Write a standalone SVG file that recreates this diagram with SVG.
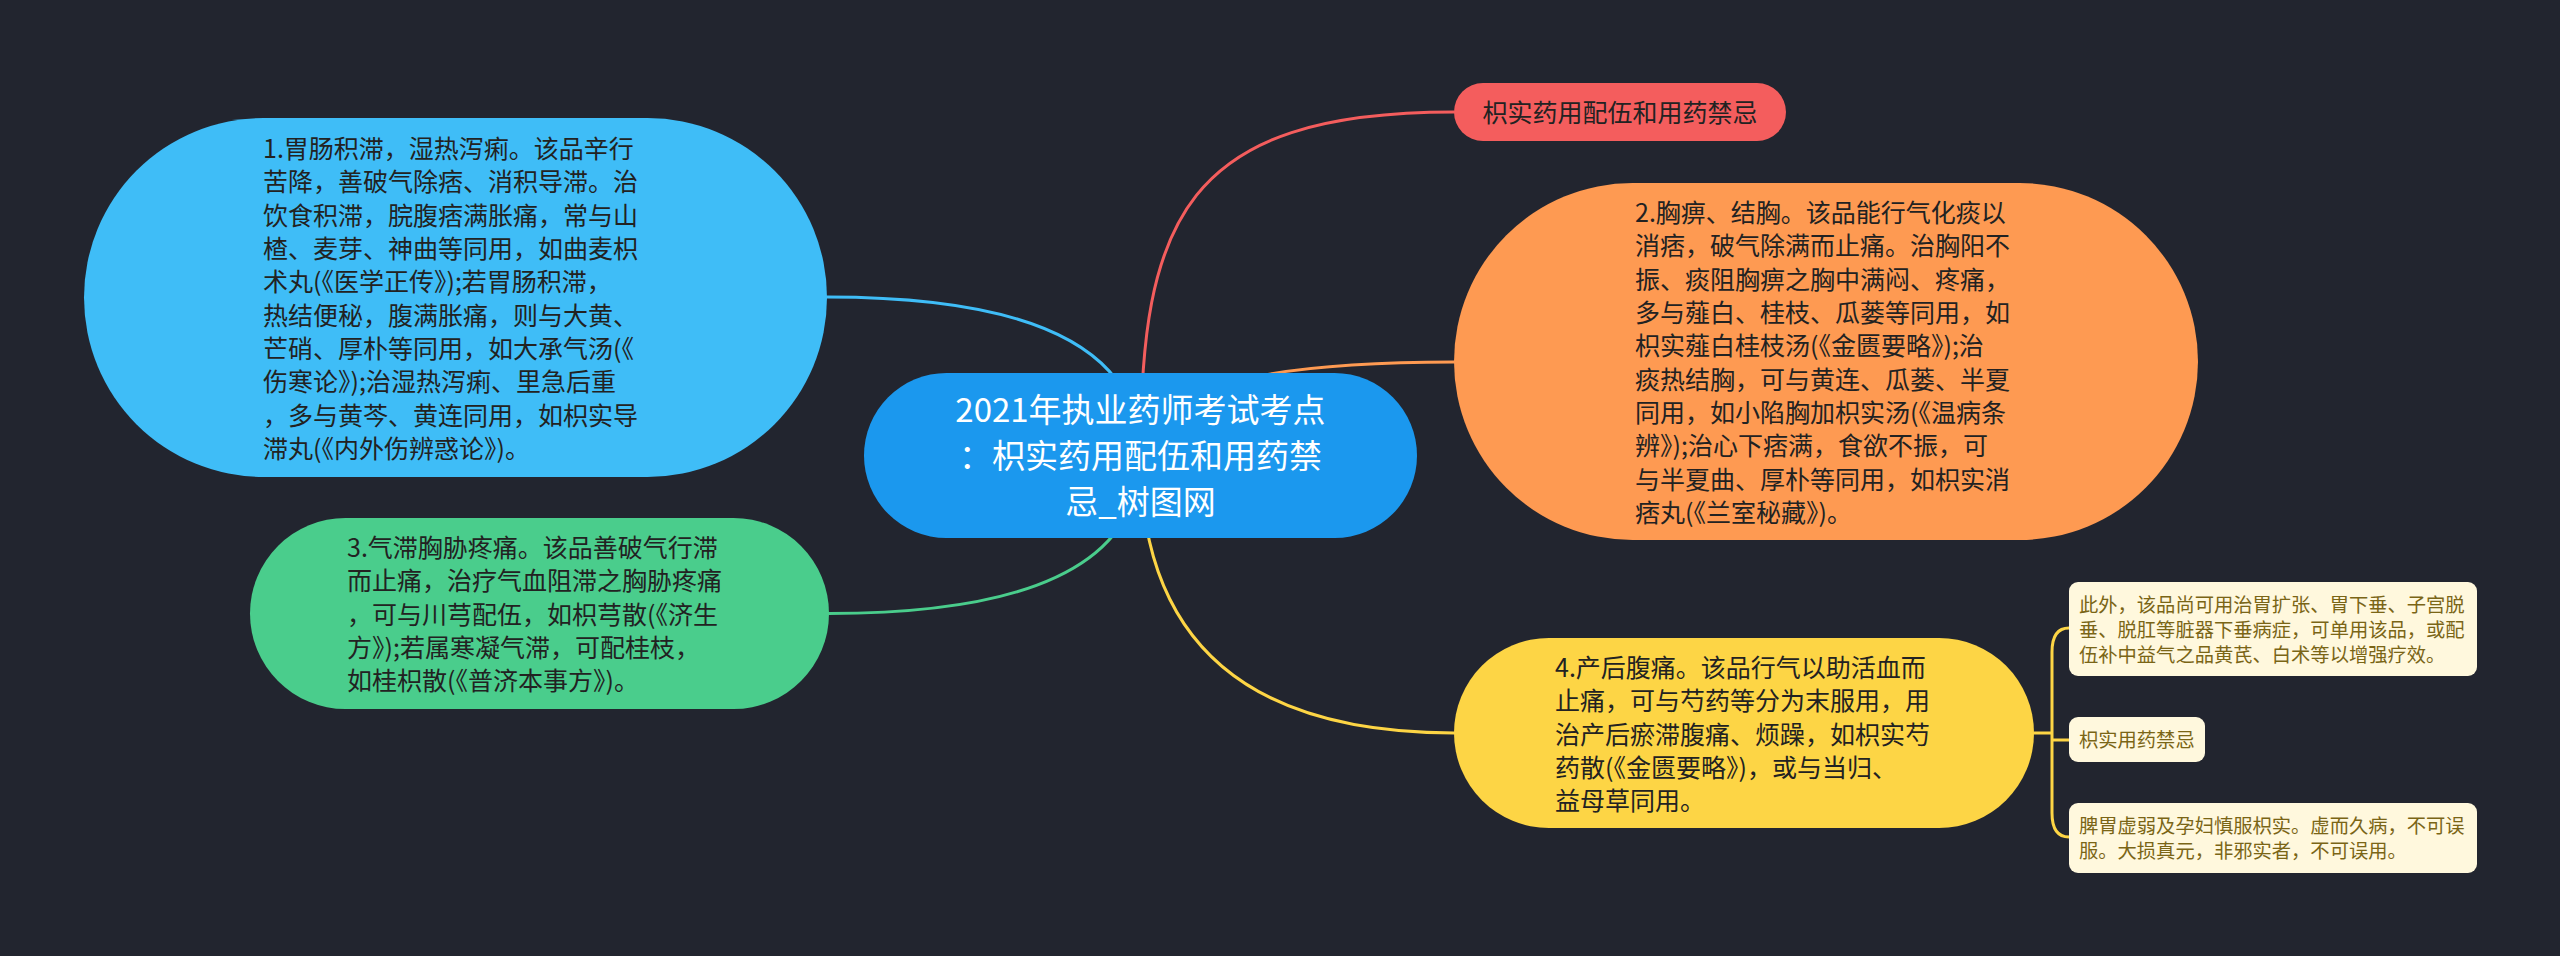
<svg xmlns="http://www.w3.org/2000/svg" width="2560" height="956" viewBox="0 0 2560 956">
<style>
.t{font-family:"Noto Sans CJK SC","Noto Sans",sans-serif;font-size:25px;fill:#222222}
.c{font-family:"Noto Sans CJK SC","Noto Sans",sans-serif;font-size:33px;fill:#ffffff;text-anchor:middle}
.s{font-family:"Noto Sans CJK SC","Noto Sans",sans-serif;font-size:19.3px;fill:#7a6516}
.ln{fill:none;stroke-width:3;stroke-linecap:round}
.sub{fill:#fff8dd}
</style>
<rect x="0" y="0" width="2560" height="956" fill="#22252f"/>
<g id="connectors">
<path class="ln" stroke="#3fbdf7" d="M1140.5 455.5 Q1140.5 297 827 297"/>
<path class="ln" stroke="#f45d5d" d="M1140.5 455.5 C1140.5 220 1185 112 1454 112"/>
<path class="ln" stroke="#fe9a52" d="M1140.5 455.5 Q1140.5 362 1454 362"/>
<path class="ln" stroke="#4acd8c" d="M1140.5 455.5 Q1140.5 613.5 829 613.5"/>
<path class="ln" stroke="#fdd545" d="M1140.5 455.5 Q1140.5 733 1454 733"/>
<path class="ln" stroke="#fdd545" d="M2034 733 L2052 733 M2069 628 Q2052 628 2052 652 L2052 813 Q2052 837 2069 837 M2052 740 L2069 740"/>
</g>
<g id="center">
<rect x="864" y="373" width="553" height="165" rx="82.5" fill="#1b98ee"/>
<text class="c"><tspan x="1140.5" y="422">2021年执业药师考试考点</tspan><tspan x="1140.5" y="468">：枳实药用配伍和用药禁</tspan><tspan x="1140.5" y="514">忌_树图网</tspan></text>
</g>
<g id="node1">
<rect x="84" y="118" width="743" height="359" rx="179.5" fill="#3fbdf7"/>
<text class="t"><tspan x="263" y="158">1.胃肠积滞，湿热泻痢。该品辛行</tspan><tspan x="263" y="191.3">苦降，善破气除痞、消积导滞。治</tspan><tspan x="263" y="224.6">饮食积滞，脘腹痞满胀痛，常与山</tspan><tspan x="263" y="258">楂、麦芽、神曲等同用，如曲麦枳</tspan><tspan x="263" y="291.3">术丸(《医学正传》);若胃肠积滞，</tspan><tspan x="263" y="324.6">热结便秘，腹满胀痛，则与大黄、</tspan><tspan x="263" y="358">芒硝、厚朴等同用，如大承气汤(《</tspan><tspan x="263" y="391.3">伤寒论》);治湿热泻痢、里急后重</tspan><tspan x="263" y="424.6">，多与黄芩、黄连同用，如枳实导</tspan><tspan x="263" y="458">滞丸(《内外伤辨惑论》)。</tspan></text>
</g>
<g id="node3">
<rect x="250" y="518" width="579" height="191" rx="95.5" fill="#4acd8c"/>
<text class="t"><tspan x="347" y="557">3.气滞胸胁疼痛。该品善破气行滞</tspan><tspan x="347" y="590.3">而止痛，治疗气血阻滞之胸胁疼痛</tspan><tspan x="347" y="623.6">，可与川芎配伍，如枳芎散(《济生</tspan><tspan x="347" y="657">方》);若属寒凝气滞，可配桂枝，</tspan><tspan x="347" y="690.3">如桂枳散(《普济本事方》)。</tspan></text>
</g>
<g id="node-red">
<rect x="1454" y="83" width="332" height="58" rx="29" fill="#f45d5d"/>
<text class="t" x="1620" y="121.5" text-anchor="middle">枳实药用配伍和用药禁忌</text>
</g>
<g id="node2">
<rect x="1454" y="183" width="744" height="357" rx="178.5" fill="#fe9a52"/>
<text class="t"><tspan x="1635" y="222">2.胸痹、结胸。该品能行气化痰以</tspan><tspan x="1635" y="255.3">消痞，破气除满而止痛。治胸阳不</tspan><tspan x="1635" y="288.6">振、痰阻胸痹之胸中满闷、疼痛，</tspan><tspan x="1635" y="322">多与薤白、桂枝、瓜蒌等同用，如</tspan><tspan x="1635" y="355.3">枳实薤白桂枝汤(《金匮要略》);治</tspan><tspan x="1635" y="388.6">痰热结胸，可与黄连、瓜蒌、半夏</tspan><tspan x="1635" y="422">同用，如小陷胸加枳实汤(《温病条</tspan><tspan x="1635" y="455.3">辨》);治心下痞满，食欲不振，可</tspan><tspan x="1635" y="488.6">与半夏曲、厚朴等同用，如枳实消</tspan><tspan x="1635" y="522">痞丸(《兰室秘藏》)。</tspan></text>
</g>
<g id="node4">
<rect x="1454" y="638" width="580" height="190" rx="95" fill="#fdd545"/>
<text class="t"><tspan x="1555" y="677">4.产后腹痛。该品行气以助活血而</tspan><tspan x="1555" y="710.3">止痛，可与芍药等分为末服用，用</tspan><tspan x="1555" y="743.6">治产后瘀滞腹痛、烦躁，如枳实芍</tspan><tspan x="1555" y="777">药散(《金匮要略》)，或与当归、</tspan><tspan x="1555" y="810.3">益母草同用。</tspan></text>
</g>
<g id="sub1">
<rect class="sub" x="2069" y="582" width="408" height="94" rx="9"/>
<text class="s"><tspan x="2079" y="612">此外，该品尚可用治胃扩张、胃下垂、子宫脱</tspan><tspan x="2079" y="637">垂、脱肛等脏器下垂病症，可单用该品，或配</tspan><tspan x="2079" y="662">伍补中益气之品黄芪、白术等以增强疗效。</tspan></text>
</g>
<g id="sub2">
<rect class="sub" x="2069" y="717" width="136" height="45" rx="9"/>
<text class="s" x="2079" y="747">枳实用药禁忌</text>
</g>
<g id="sub3">
<rect class="sub" x="2069" y="803" width="408" height="70" rx="9"/>
<text class="s"><tspan x="2079" y="833">脾胃虚弱及孕妇慎服枳实。虚而久病，不可误</tspan><tspan x="2079" y="858">服。大损真元，非邪实者，不可误用。</tspan></text>
</g>
</svg>
